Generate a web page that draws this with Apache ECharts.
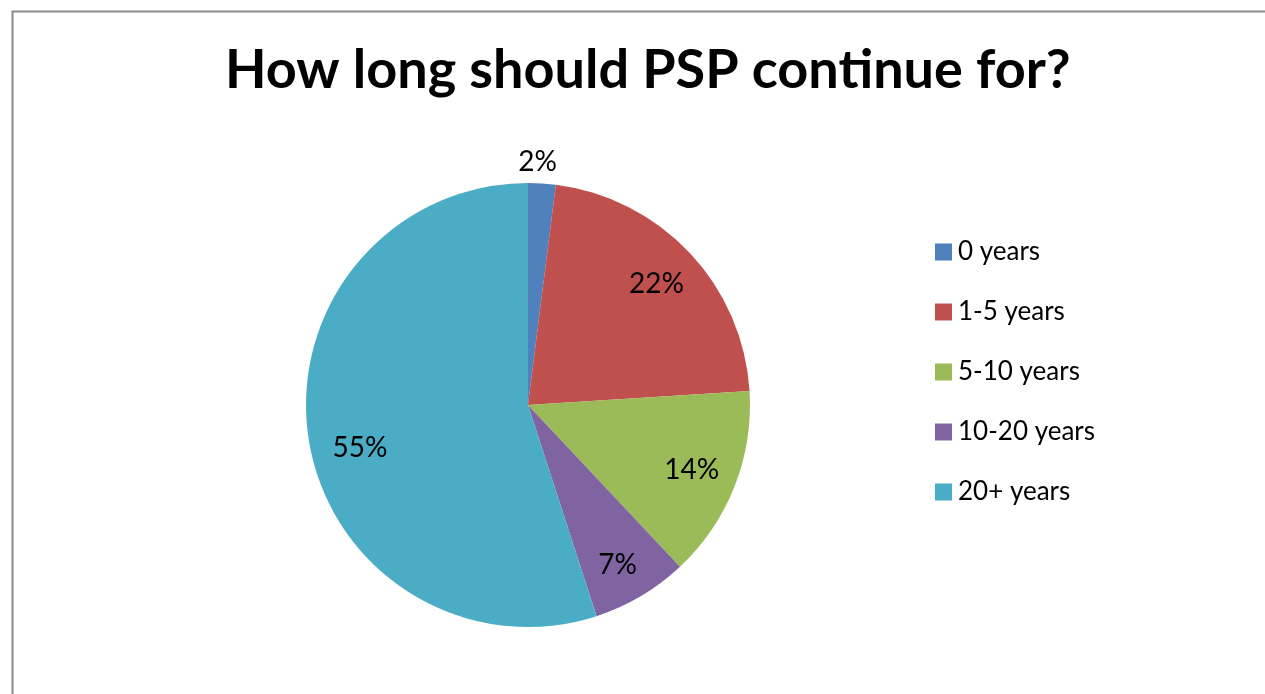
<!DOCTYPE html>
<html><head><meta charset="utf-8">
<script src="https://cdn.jsdelivr.net/npm/echarts@6/dist/echarts.min.js"></script>
<style>html,body{margin:0;padding:0;background:#fff}#c{width:1265px;height:694px}</style>
</head><body><div id="c"></div>
<script>
const titleText = 'How long should PSP continue for?';
const categories = ['0 years', '1-5 years', '5-10 years', '10-20 years', '20+ years'];
const values = [2, 22, 14, 7, 55];
const colors = ['#4F81BD', '#C0504D', '#9BBB59', '#8064A2', '#4BACC6'];

const chart = echarts.init(document.getElementById('c'), null, {renderer: 'canvas'});
const FONT = 'Lato, "Open Sans", sans-serif';
const center = [528, 405];
const R = 222;

const mainData = categories.map((c, i) => ({name: c, value: values[i], itemStyle: {color: colors[i]}}));
const labelData = categories.map((c, i) => {
  const d = {name: c, value: values[i]};
  if (i === 0) {
    d.label = {position: 'outside', offset: [-30, 0]};
    d.labelLine = {show: false, length: 22, length2: 0};
  }
  if (i === 3) d.label = {offset: [0, 8]};
  if (i === 4) d.label = {offset: [6, 15]};
  return d;
});

chart.setOption({
  animation: false,
  color: colors,
  graphic: [{
    type: 'rect', left: 10, top: 9,
    shape: {x: 0, y: 0, width: 1300, height: 720},
    style: {fill: 'none', stroke: '#8a8a8a', lineWidth: 2},
    silent: true, z: -10
  }],
  title: {
    text: titleText, left: 220, top: 39,
    textStyle: {fontFamily: FONT, fontWeight: 'bold', fontSize: 54, color: '#000'}
  },
  legend: {
    orient: 'vertical', left: 930, top: 234,
    itemWidth: 17, itemHeight: 17, itemGap: 34,
    icon: 'rect',
    data: categories,
    textStyle: {fontFamily: FONT, fontSize: 26, lineHeight: 26, color: '#000', padding: [0, 0, 0, 1]}
  },
  series: [{
    type: 'pie', center: center, radius: [0, R],
    startAngle: 90, clockwise: true,
    label: {show: false}, labelLine: {show: false},
    silent: true,
    data: mainData
  }, {
    type: 'pie', center: center, radius: [R * 0.56, R],
    startAngle: 90, clockwise: true,
    silent: true,
    legendHoverLink: false,
    itemStyle: {color: 'rgba(0,0,0,0)'},
    label: {show: true, position: 'inside', formatter: '{c}%',
      fontFamily: FONT, fontSize: 28, color: '#000'},
    labelLine: {show: false},
    data: labelData
  }]
});
</script></body></html>
